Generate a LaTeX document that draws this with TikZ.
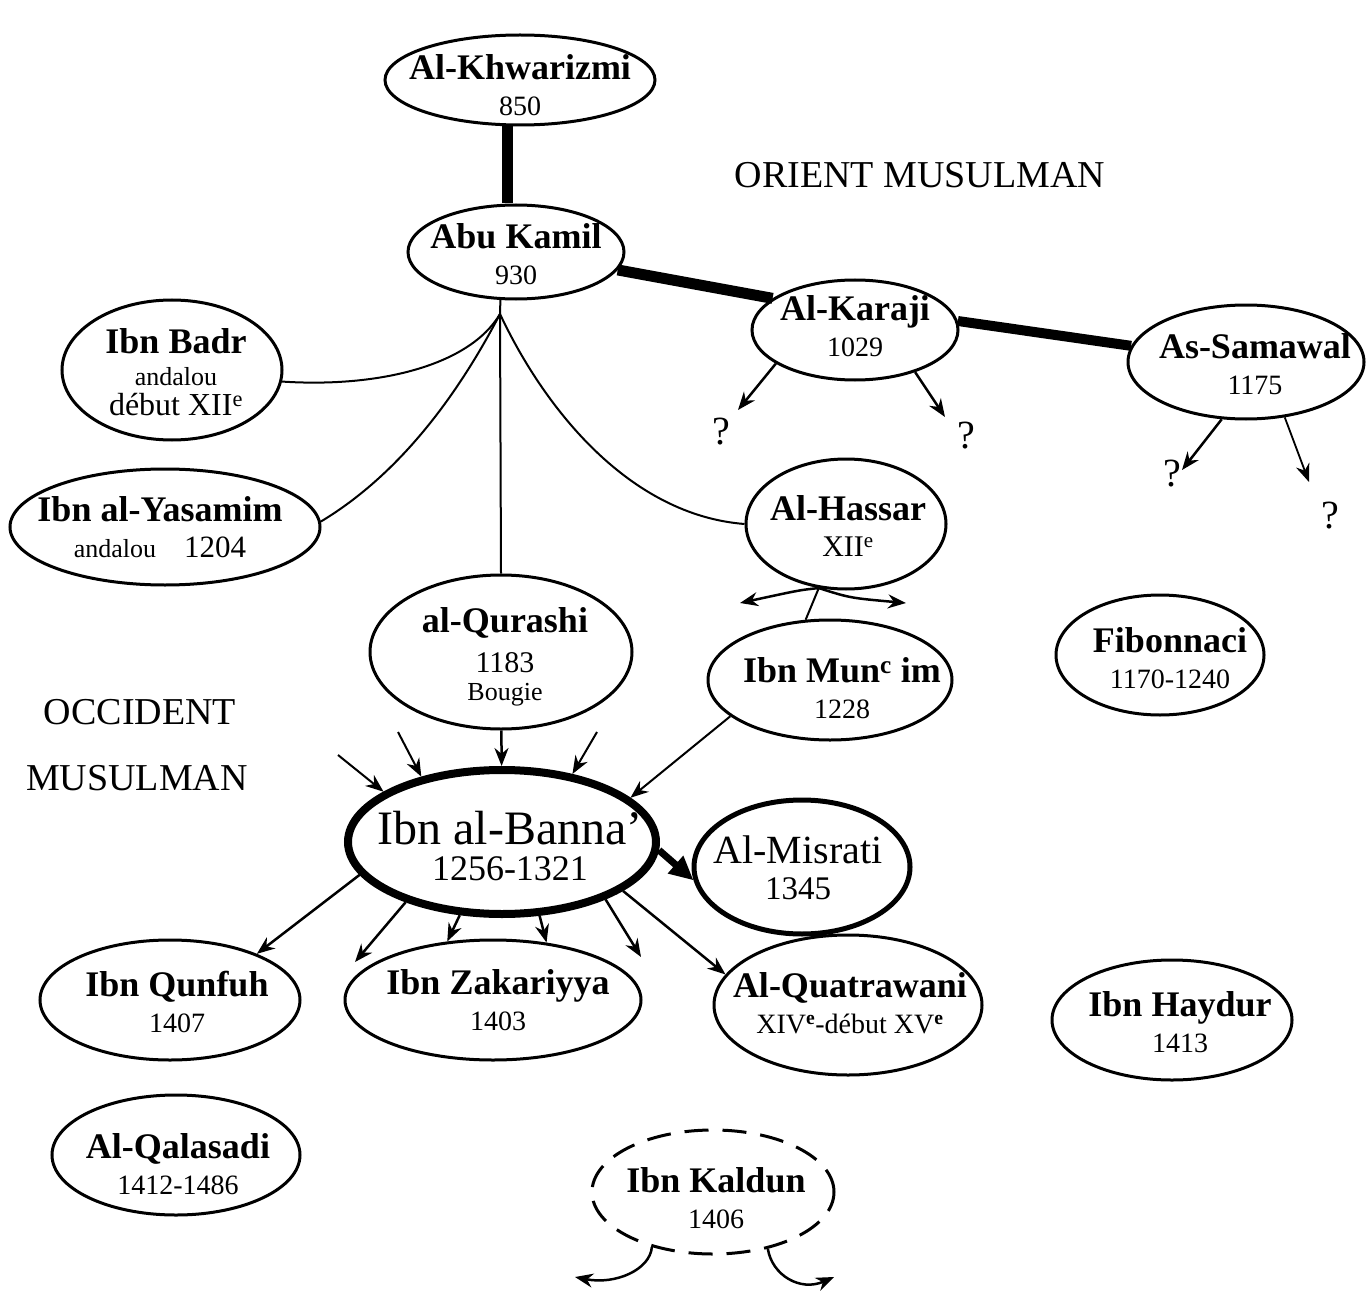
\documentclass[tikz,border=0pt]{standalone}
\usepackage{fontspec}
\setmainfont{Liberation Serif}
\usetikzlibrary{shapes.geometric,arrows.meta,calc}
\newcommand\nmA[1]{{\fontsize{36}{40}\selectfont\bfseries #1}}
\newcommand\yrA[1]{{\fontsize{28}{32}\selectfont #1}}
\newcommand\smA[1]{{\fontsize{26}{30}\selectfont #1}}
\begin{document}
\begin{tikzpicture}[x=1pt,y=-1pt,
 pers/.style={draw, ellipse, line width=3pt, inner sep=0pt},
 txt/.style={align=center, inner sep=0pt, font=\fontsize{28}{36}\selectfont},
 arr/.style={-{Stealth[length=18pt,width=14pt]}, line width=2.5pt},
 link/.style={line width=2pt},
 heavy/.style={line width=11pt},
 qm/.style={font=\fontsize{40}{40}\selectfont, inner sep=0pt},
 region/.style={font=\fontsize{38}{40}\selectfont, inner sep=0pt},
]
\useasboundingbox[fill=white] (0,0) rectangle (1366,1292);

% person ellipses
\node[pers, minimum width=270, minimum height=90] (khw) at (520,80) {};
\node[pers, minimum width=216, minimum height=94] (abu) at (516,252) {};
\node[pers, minimum width=206, minimum height=100] (karaji) at (855,330) {};
\node[pers, minimum width=236, minimum height=114] (samawal) at (1246,362) {};
\node[pers, minimum width=220, minimum height=140] (badr) at (172,370) {};
\node[pers, minimum width=310, minimum height=116] (yas) at (165,527) {};
\node[pers, minimum width=200, minimum height=130] (hassar) at (846,524) {};
\node[pers, minimum width=262, minimum height=154] (qur) at (501,652) {};
\node[pers, minimum width=244, minimum height=120] (munc) at (830,680) {};
\node[pers, minimum width=208, minimum height=120] (fib) at (1160,655) {};
\node[pers, line width=8pt, minimum width=308, minimum height=144] (banna) at (502,842) {};
\node[pers, line width=5pt, minimum width=216, minimum height=134] (misrati) at (802,867) {};
\node[pers, minimum width=260, minimum height=120] (qunfuh) at (170,1000) {};
\node[pers, minimum width=296, minimum height=120] (zak) at (493,1000) {};
\node[pers, minimum width=268, minimum height=140] (quat) at (848,1005) {};
\node[pers, minimum width=240, minimum height=120] (haydur) at (1172,1020) {};
\node[pers, minimum width=248, minimum height=120] (qal) at (176,1155) {};
\node[pers, dash pattern=on 24pt off 14pt, minimum width=242, minimum height=124] (kaldun) at (713,1192) {};

% texts
\node[txt] (khwT) at (520,85) {\nmA{Al-Khwarizmi}\\\yrA{850}};
\node[txt] (abuT) at (516,254) {\nmA{Abu Kamil}\\\yrA{930}};
\node[txt] (karajiT) at (855,326) {\nmA{Al-Karaji}\\\yrA{1029}};
\node[txt] (samawalT) at (1255,364) {\nmA{As-Samawal}\\\yrA{1175}};
\node[txt] (badrT) at (176,372) {\nmA{Ibn Badr}\\[-4pt]\smA{andalou}\\[-6pt]{\fontsize{32}{36}\selectfont début XII\textsuperscript{e}}};
\node[txt] (yasT) at (160,527) {\nmA{Ibn al-Yasamim}\\\smA{andalou}\quad{\fontsize{31}{36}\selectfont 1204}};
\node[txt] (hassarT) at (848,526) {\nmA{Al-Hassar}\\{\fontsize{30}{36}\selectfont XII\textsuperscript{e}}};
\node[txt] (qurT) at (505,657) {\nmA{al-Qurashi}\\[4pt]{\fontsize{30}{34}\selectfont 1183}\\[-8pt]\smA{Bougie}};
\node[txt] (muncT) at (842,688) {\nmA{Ibn Mun\textsuperscript{c} im}\\\yrA{1228}};
\node[txt] (fibT) at (1170,658) {\nmA{Fibonnaci}\\\yrA{1170-1240}};
\node[txt] (bannaT) at (510,846) {{\fontsize{48}{50}\selectfont Ibn al-Banna'}\\{\fontsize{36}{40}\selectfont 1256-1321}};
\node[txt] (misratiT) at (798,868) {{\fontsize{40}{44}\selectfont Al-Misrati}\\{\fontsize{33}{42}\selectfont 1345}};
\node[txt] (qunfuhT) at (177,1002) {\nmA{Ibn Qunfuh}\\\yrA{1407}};
\node[txt] (zakT) at (498,1000) {\nmA{Ibn Zakariyya}\\\yrA{1403}};
\node[txt] (quatT) at (850,1003) {\nmA{Al-Quatrawani}\\{\fontsize{28}{32}\selectfont XIV\textsuperscript{\bfseries e}-début XV\textsuperscript{\bfseries e}}};
\node[txt] (haydurT) at (1180,1022) {\nmA{Ibn Haydur}\\\yrA{1413}};
\node[txt] (qalT) at (178,1164) {\nmA{Al-Qalasadi}\\\yrA{1412-1486}};
\node[txt] (kaldunT) at (716,1198) {\nmA{Ibn Kaldun}\\\yrA{1406}};

% region labels
\node[region] (orient) at (920,175) {ORIENT MUSULMAN};
\node[region] (occ) at (140,712) {OCCIDENT};
\node[region] (mus) at (137,778) {MUSULMAN};

% question marks
\node[qm] (q1) at (721,432) {?};
\node[qm] (q2) at (966,436) {?};
\node[qm] (q3) at (1172,474) {?};
\node[qm] (q4) at (1330,516) {?};

% free coordinates
\coordinate (hub) at (500,314);
\coordinate (in1) at (338,755);
\coordinate (in2) at (398,732);
\coordinate (in4) at (597,732);
\coordinate (out2) at (355,962);
\coordinate (out5) at (641,957);
\coordinate (k1) at (738,410);
\coordinate (k2) at (945,417);
\coordinate (s1) at (1182,470);
\coordinate (s2) at (1309,482);
\coordinate (hl) at (740,603);
\coordinate (hr) at (906,603);
\coordinate (kl) at (575,1277);
\coordinate (kr) at (834,1277);

% heavy lineage
\draw[heavy] ($(khw.south)+(-13,0)$) -- ($(abu.north)+(-9,0)$);
\draw[heavy] (abu.-10) -- (karaji.159);
\draw[line width=10pt] (karaji.5) -- (samawal.172);

% Abu Kamil links
\draw[link] (abu.252) -- (hub);
\draw[link] (hub) .. controls (470,365) and (380,388) .. (badr.354);
\draw[link] (hub) .. controls (450,410) and (390,480) .. (yas.2);
\draw[link] (hub) -- (qur.north);
\draw[link] (hub) .. controls (545,410) and (630,515) .. (hassar.west);

% unknown successors
\draw[arr] (karaji.203) -- (k1);
\draw[arr] (karaji.325) -- (k2);
\draw[arr] (samawal.247) -- (s1);
\draw[arr, line width=1.8pt] (samawal.305) -- (s2);

% Al-Hassar
\draw[link] (hassar.247) -- (munc.112);
\draw[arr] (hassar.247) .. controls (800,590) .. (hl);
\draw[arr] (hassar.247) .. controls (850,598) .. (hr);

% into Ibn al-Banna
\draw[arr, line width=2pt] (in1) -- (banna.157);
\draw[arr, line width=2pt] (in2) -- (banna.141);
\draw[arr] (qur) -- (banna);
\draw[arr, line width=2pt] (in4) -- (banna.44);
\draw[arr, line width=2pt] (munc.200) -- (banna.19);
\draw[-{Triangle[length=24pt,width=22pt]}, line width=7pt] (banna.-3) -- (misrati.187);

% out of Ibn al-Banna
\draw[arr] (banna.193) -- (qunfuh.28);
\draw[arr] (banna.212) -- (out2);
\draw[arr] (banna.240) -- (zak.128);
\draw[arr] (banna.297) -- (zak.47);
\draw[arr] (banna.331) -- (out5);
\draw[arr] (banna.338) -- (quat.166);

% Ibn Kaldun
\draw[arr] (kaldun.222) .. controls (650,1270) and (615,1285) .. (kl);
\draw[arr] (kaldun.314) .. controls (772,1275) and (800,1292) .. (kr);
\end{tikzpicture}
\end{document}
